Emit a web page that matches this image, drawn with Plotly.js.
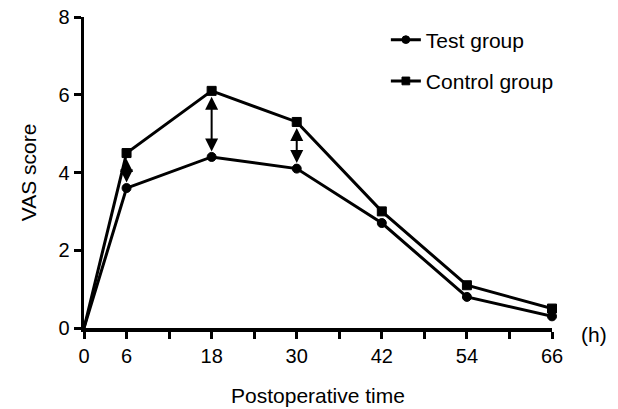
<!DOCTYPE html>
<html>
<head>
<meta charset="utf-8">
<script src="https://cdn.plot.ly/plotly-3.0.1.min.js"></script>
<style>html,body{margin:0;padding:0;background:#fff;}#chart{width:618px;height:409px;}</style>
</head>
<body>
<div id="chart"></div>
<script>
// Data
const hours = [0, 6, 18, 30, 42, 54, 66];
const testGroup = [0, 3.6, 4.4, 4.1, 2.7, 0.8, 0.3];
const controlGroup = [0, 4.5, 6.1, 5.3, 3.0, 1.1, 0.5];
const arrowHours = [6, 18, 30];
const xTickVals = [0, 6, 12, 18, 24, 30, 36, 42, 48, 54, 60, 66];
const xTickText = ['0', '6', '', '18', '', '30', '', '42', '', '54', '', '66'];
const yTickVals = [0, 2, 4, 6, 8];

const FONT = 'Liberation Sans, Arial, Helvetica, sans-serif';
const sizes = hours.map((h, i) => (i === 0 ? 0 : 9));

const traces = [
  {
    x: hours, y: testGroup, name: 'Test group', type: 'scatter', mode: 'lines+markers',
    line: {color: '#000', width: 3},
    marker: {symbol: 'circle', size: sizes, color: '#000', opacity: 1, line: {color: '#000', width: 1}},
    legendgroup: 'a', cliponaxis: false
  },
  {
    x: hours, y: controlGroup, name: 'Control group', type: 'scatter', mode: 'lines+markers',
    line: {color: '#000', width: 3},
    marker: {symbol: 'square', size: sizes, color: '#000', opacity: 1, line: {color: '#000', width: 1}},
    legendgroup: 'b', cliponaxis: false
  }
];

const annotations = arrowHours.map(h => {
  const i = hours.indexOf(h);
  return {
    x: h, y: controlGroup[i], ax: h, ay: testGroup[i],
    xref: 'x', yref: 'y', axref: 'x', ayref: 'y',
    showarrow: true, arrowside: 'end+start', arrowhead: 2, startarrowhead: 2,
    arrowsize: 1.3, startarrowsize: 1.3, arrowwidth: 2, arrowcolor: '#000',
    standoff: 6, startstandoff: 4, text: ''
  };
});
annotations.push({
  text: '(h)', xref: 'paper', yref: 'paper', x: 1.058, y: -0.02,
  xanchor: 'left', yanchor: 'middle', showarrow: false,
  font: {family: FONT, size: 21, color: '#000'}
});

const layout = {
  width: 618, height: 409,
  margin: {l: 84, r: 66, t: 17, b: 81},
  paper_bgcolor: '#fff', plot_bgcolor: '#fff',
  font: {family: FONT, size: 20, color: '#000'},
  showlegend: true,
  legend: {
    x: 0.645, y: 0.992, xanchor: 'left', yanchor: 'top',
    traceorder: 'grouped', tracegroupgap: 11,
    font: {family: FONT, size: 21, color: '#000'},
    bgcolor: 'rgba(0,0,0,0)'
  },
  xaxis: {
    range: [0, 66], tickmode: 'array', tickvals: xTickVals, ticktext: xTickText,
    showline: true, linecolor: '#000', linewidth: 3.5,
    ticks: 'outside', ticklen: 7, tickwidth: 3, tickcolor: '#000',
    showgrid: false, zeroline: false, layer: 'above traces',
    tickfont: {family: FONT, size: 20, color: '#000'},
    title: {text: 'Postoperative time', font: {family: FONT, size: 21, color: '#000'}, standoff: 24}
  },
  yaxis: {
    range: [0, 8], tickmode: 'array', tickvals: yTickVals,
    showline: true, linecolor: '#000', linewidth: 3.5,
    ticks: 'outside', ticklen: 7, tickwidth: 3, tickcolor: '#000',
    showgrid: false, zeroline: false, layer: 'above traces',
    tickfont: {family: FONT, size: 20, color: '#000'},
    title: {text: 'VAS score', font: {family: FONT, size: 21, color: '#000'}, standoff: 17}
  },
  annotations: annotations
};

Plotly.newPlot('chart', traces, layout, {displayModeBar: false, staticPlot: true});
</script>
</body>
</html>
